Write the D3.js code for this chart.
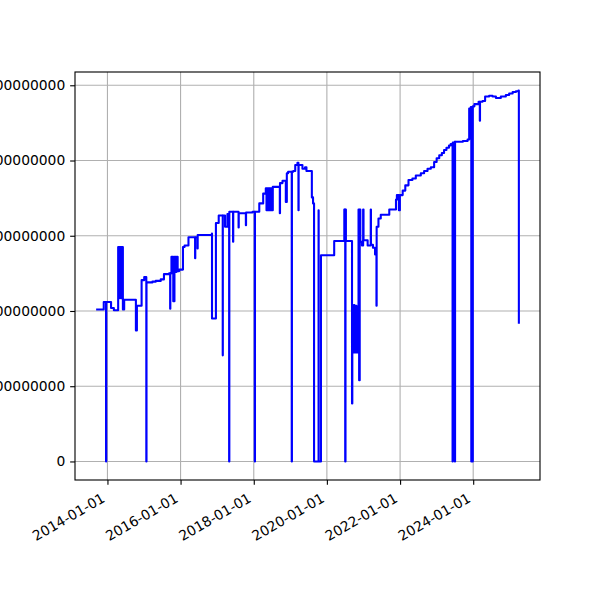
<!DOCTYPE html>
<html>
<head>
<meta charset="utf-8">
<script src="https://cdn.jsdelivr.net/npm/d3@7"></script>
<style>
  html, body { margin: 0; padding: 0; background: #fff; }
  svg { display: block; }
  text { font-family: "DejaVu Sans", sans-serif; font-size: 13.89px; fill: #000; }
</style>
</head>
<body>
<svg id="chart" width="600" height="600"></svg>
<script>
// ---- data (values in units of 1e8) ----
const UNIT = 1e8;
const dates = [
"2013-09-10","2013-11-24","2013-11-25","2013-12-17","2013-12-18","2013-12-20","2014-02-05","2014-02-06","2014-03-05","2014-03-06",
"2014-04-17","2014-04-18","2014-04-24","2014-04-25","2014-04-29","2014-05-14","2014-05-15","2014-05-19","2014-06-03","2014-06-04",
"2014-06-16","2014-06-17","2014-10-11","2014-10-12","2014-10-22","2014-12-07","2014-12-08","2015-01-03","2015-01-23","2015-01-24",
"2015-01-26","2015-03-26","2015-04-28","2015-06-17","2015-07-19","2015-09-09","2015-09-19","2015-09-21","2015-10-01","2015-10-02",
"2015-10-18","2015-10-20","2015-10-31","2015-11-01","2015-11-13","2015-11-23","2015-12-03","2015-12-18","2016-01-09","2016-01-25",
"2016-02-10","2016-03-20","2016-05-15","2016-05-25","2016-05-27","2016-06-18","2016-06-20","2016-11-09","2016-11-10","2016-12-18",
"2016-12-19","2017-01-15","2017-01-16","2017-02-24","2017-02-25","2017-02-26","2017-03-20","2017-04-13","2017-04-29","2017-04-30",
"2017-05-02","2017-06-08","2017-06-10","2017-08-02","2017-08-04","2017-10-14","2017-10-16","2017-12-20","2018-01-10","2018-01-11",
"2018-01-13","2018-02-24","2018-02-25","2018-04-04","2018-04-05","2018-05-01","2018-05-08","2018-05-15","2018-05-22","2018-05-29",
"2018-06-05","2018-06-12","2018-06-19","2018-06-26","2018-07-03","2018-07-10","2018-09-05","2018-09-18","2018-09-20","2018-10-15",
"2018-11-17","2018-11-27","2018-12-10","2019-01-14","2019-01-15","2019-01-17","2019-01-30","2019-02-19","2019-03-13","2019-03-23",
"2019-03-25","2019-05-02","2019-05-28","2019-06-11","2019-08-03","2019-08-04","2019-08-16","2019-08-26","2019-10-09","2019-10-10",
"2019-10-11","2019-11-02","2019-11-03","2020-03-13","2020-03-14","2020-06-22","2020-06-23","2020-06-25","2020-06-28","2020-07-02",
"2020-07-05","2020-07-09","2020-09-07","2020-09-08","2020-09-11","2020-09-22","2020-09-27","2020-10-02","2020-10-07","2020-10-12",
"2020-10-17","2020-10-22","2020-10-27","2020-11-01","2020-11-06","2020-11-12","2020-11-18","2020-11-24","2020-11-30","2020-12-16",
"2020-12-28","2021-01-01","2021-02-11","2021-03-14","2021-03-16","2021-04-05","2021-04-26","2021-05-10","2021-05-12","2021-05-30",
"2021-06-22","2021-09-14","2021-09-15","2021-11-20","2021-11-21","2021-11-30","2021-12-15","2021-12-20","2021-12-30","2022-01-27",
"2022-02-22","2022-03-26","2022-05-04","2022-06-07","2022-07-27","2022-08-29","2022-10-02","2022-11-04","2022-12-07","2023-01-01",
"2023-01-27","2023-02-22","2023-03-16","2023-04-09","2023-05-04","2023-05-21","2023-06-08","2023-06-09","2023-06-11","2023-07-01",
"2023-07-02","2023-07-04","2023-09-20","2023-11-06","2023-11-22","2023-12-08","2023-12-13","2023-12-18","2023-12-23","2023-12-28",
"2024-01-13","2024-02-24","2024-03-07","2024-03-09","2024-04-03","2024-04-29","2024-06-08","2024-07-12","2024-08-15","2024-10-03",
"2024-11-22","2024-12-25","2025-01-29","2025-03-03","2025-03-28","2025-04-01"
];
const values = [
2.02,2.02,2.12,2.12,0,2.12,2.12,2.04,2.04,2.01,
2.01,2.85,2.85,2.17,2.85,2.85,2.17,2.85,2.85,2.02,
2.02,2.15,2.15,1.74,2.07,2.07,2.41,2.45,2.45,0,
2.38,2.39,2.40,2.42,2.49,2.50,2.03,2.50,2.50,2.72,
2.72,2.13,2.13,2.72,2.52,2.72,2.53,2.55,2.55,2.85,
2.87,2.98,2.98,2.70,2.98,2.83,3.01,3.03,1.90,1.90,
3.17,3.17,3.27,3.27,1.41,3.27,3.12,3.29,3.29,0,
3.32,2.92,3.32,3.11,3.30,3.14,3.31,3.32,3.32,0,
3.32,3.32,3.43,3.43,3.56,3.63,3.34,3.63,3.34,3.63,
3.34,3.63,3.34,3.63,3.34,3.65,3.65,3.30,3.70,3.73,
3.45,3.83,3.85,3.85,0,3.85,3.86,3.94,3.97,3.34,
3.94,3.89,3.91,3.86,3.86,3.51,3.43,0,0,3.34,
0,0,2.74,2.74,2.93,2.93,3.35,2.93,3.35,0,
3.35,2.93,2.93,0.77,2.05,1.45,2.08,1.48,2.06,1.45,
2.07,1.50,2.05,1.45,1.55,3.35,1.08,3.35,2.92,2.87,
3.35,2.94,2.87,3.35,2.88,2.84,2.75,2.07,3.12,3.23,
3.28,3.28,3.35,3.35,3.48,3.54,3.54,3.34,3.54,3.60,
3.67,3.74,3.76,3.80,3.83,3.86,3.89,3.91,3.98,4.03,
4.07,4.10,4.14,4.17,4.20,4.22,4.22,0,4.24,4.25,
0,4.25,4.26,4.28,4.69,4.71,0,4.71,0,4.72,
4.75,4.78,4.53,4.78,4.79,4.85,4.86,4.85,4.83,4.85,
4.87,4.89,4.91,4.92,4.93,1.83
];
const xTickLabels = ["2014-01-01","2016-01-01","2018-01-01","2020-01-01","2022-01-01","2024-01-01"];
const yTickValues = [0, 1, 2, 3, 4, 5];

// ---- layout ----
const L = 75, R = 540, T = 72, B = 480;
const PT = 100 / 72; // matplotlib points -> px at 100 dpi
const parse = d3.timeParse("%Y-%m-%d");
const data = dates.map((d, i) => ({ t: parse(d), v: values[i] * UNIT }));

const tExt = d3.extent(data, d => +d.t);
const tPad = (tExt[1] - tExt[0]) * 0.05;
const x = d3.scaleTime()
  .domain([new Date(tExt[0] - tPad), new Date(tExt[1] + tPad)])
  .range([L, R]);

const vExt = d3.extent(data, d => d.v);
const vPad = (vExt[1] - vExt[0]) * 0.05;
const y = d3.scaleLinear()
  .domain([vExt[0] - vPad, vExt[1] + vPad])
  .range([B, T]);

const svg = d3.select("#chart");
svg.append("rect").attr("width", 600).attr("height", 600).attr("fill", "#fff");

const xTicks = xTickLabels.map(parse);
const yTicks = yTickValues.map(v => v * UNIT);

// grid
const grid = svg.append("g");
grid.selectAll(".gx").data(xTicks).join("line")
  .attr("x1", d => x(d)).attr("x2", d => x(d))
  .attr("y1", T).attr("y2", B)
  .attr("stroke", "#b0b0b0").attr("stroke-width", 0.8 * PT);
grid.selectAll(".gy").data(yTicks).join("line")
  .attr("x1", L).attr("x2", R)
  .attr("y1", d => y(d)).attr("y2", d => y(d))
  .attr("stroke", "#b0b0b0").attr("stroke-width", 0.8 * PT);

// line
const line = d3.line()
  .x(d => x(d.t))
  .y(d => y(d.v))
  .curve(d3.curveStepAfter);
svg.append("path")
  .datum(data)
  .attr("d", line)
  .attr("fill", "none")
  .attr("stroke", "#0000ff")
  .attr("stroke-width", 1.5 * PT)
  .attr("stroke-linejoin", "round");

// spines
svg.append("rect")
  .attr("x", L).attr("y", T).attr("width", R - L).attr("height", B - T)
  .attr("fill", "none").attr("stroke", "#000").attr("stroke-width", 0.8 * PT);

const TICK = 3.5 * PT, PAD = 3.5 * PT;

// x axis ticks + labels
const xAxisG = svg.append("g").attr("transform", `translate(0,${B})`);
const xAxis = d3.axisBottom(x).tickValues(xTicks).tickFormat(d3.timeFormat("%Y-%m-%d"))
  .tickSize(TICK).tickPadding(PAD);
xAxisG.call(xAxis);
xAxisG.select(".domain").remove();
xAxisG.selectAll(".tick line").attr("stroke", "#000").attr("stroke-width", 0.8 * PT);
xAxisG.selectAll(".tick text")
  .attr("font-family", "DejaVu Sans, sans-serif").attr("font-size", 13.89)
  .attr("fill", "#000")
  .attr("y", 0).attr("dy", 0)
  .style("text-anchor", "end")
  .attr("transform", "rotate(-30)");
// align rotated bbox: top-right corner at (tickX, B + tick + pad)
xAxisG.selectAll(".tick").each(function(d) {
  const tx = x(d);
  const text = d3.select(this).select("text");
  const r = text.node().getBoundingClientRect();
  const dx = tx - r.right;
  const dy = (B + TICK + PAD) - r.top;
  text.attr("transform", `translate(${dx},${dy}) rotate(-30)`);
});

// y axis ticks + labels
const yAxisG = svg.append("g").attr("transform", `translate(${L},0)`);
const yAxis = d3.axisLeft(y).tickValues(yTicks).tickFormat(d3.format("d"))
  .tickSize(TICK).tickPadding(PAD);
yAxisG.call(yAxis);
yAxisG.select(".domain").remove();
yAxisG.selectAll(".tick line").attr("stroke", "#000").attr("stroke-width", 0.8 * PT);
yAxisG.selectAll(".tick text")
  .attr("font-family", "DejaVu Sans, sans-serif").attr("font-size", 13.89)
  .attr("fill", "#000");
</script>
</body>
</html>
